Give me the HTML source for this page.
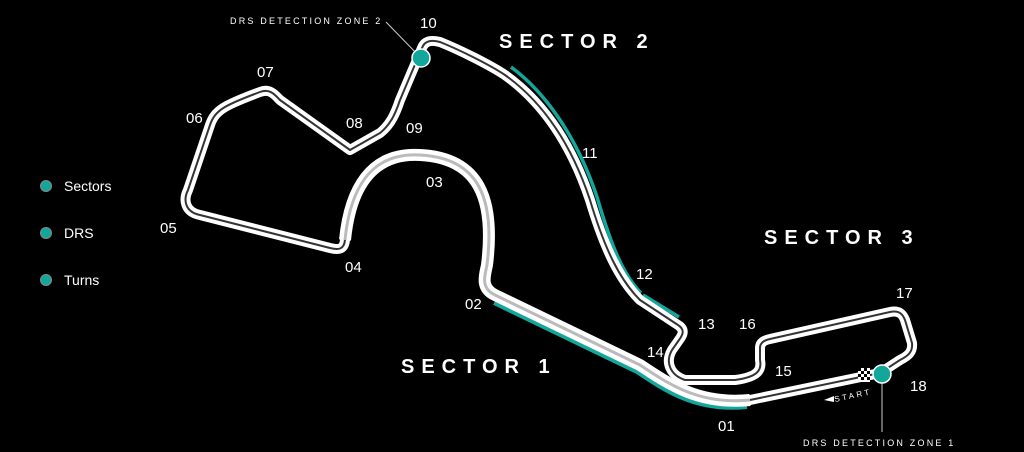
<!DOCTYPE html>
<html><head><style>
html,body{margin:0;padding:0;background:#000;}
body{width:1024px;height:452px;overflow:hidden;position:relative;font-family:"Liberation Sans",sans-serif;}
</style></head><body>
<svg width="1024" height="452" viewBox="0 0 1024 452" xmlns="http://www.w3.org/2000/svg" style="position:absolute;left:0;top:0">
<defs>
<path id="tr" d="M880 373 L750 400 C700 405 670 385 640 365 L495 295 C480 288 485 275 487 265 C495 200 480 158 420 155 C370 152 350 190 345 240 C344 250 338 250 330 248 L200 215 C185 212 183 200 188 190 L210 125 C215 110 225 105 260 92 C270 88 275 95 280 100 L350 150 L380 133 C390 125 395 115 400 100 L422 48 C425 40 432 40 440 42 C460 50 490 65 505 75 C540 100 570 140 590 200 C605 250 620 280 640 300 L678 325 C686 330 682 336 679 340 L672 350 C665 362 670 375 685 380 L735 380 C758 377 762 370 760 360 L760 348 C760 342 765 340 770 339 L890 312 C900 310 903 315 905 320 L912 343 C913 352 908 356 900 360 Z"/>
<path id="s1" d="M750 400 C700 405 670 385 640 365 L495 295 C480 288 485 275 487 265 C495 200 480 158 420 155 C370 152 350 190 345 240"/>
</defs>
<g fill="none" stroke-linecap="butt" stroke-linejoin="round">
<!-- teal segments -->
<path d="M497 296 L640 365 C670 385 700 405 750 400" stroke="#13a79b" stroke-width="4" transform="translate(-3,7)"/>
<path d="M506 70 C540 95 572 140 592 200 C606 248 618 278 636 296" stroke="#13a79b" stroke-width="3.5" transform="translate(5,-3)"/>
<path d="M640 300 L676 322" stroke="#13a79b" stroke-width="3.5" transform="translate(3,-5)"/>
<!-- track -->
<use href="#tr" stroke="#fff" stroke-width="10" stroke-linecap="round"/>
<use href="#tr" stroke="#333" stroke-width="2"/>
<use href="#s1" stroke="#fff" stroke-width="12"/>
<use href="#s1" stroke="#bbb" stroke-width="3"/>
</g>
<!-- checkered -->
<g fill="#fff"><rect x="858" y="368" width="12" height="14"/></g>
<g fill="#000"><rect x="858" y="368" width="3" height="3"/><rect x="864" y="368" width="3" height="3"/><rect x="861" y="371" width="3" height="3"/><rect x="867" y="371" width="3" height="3"/><rect x="858" y="374" width="3" height="3"/><rect x="864" y="374" width="3" height="3"/><rect x="861" y="377" width="3" height="3"/><rect x="867" y="377" width="3" height="3"/></g>
<!-- DRS markers -->
<line x1="421" y1="58" x2="386" y2="22" stroke="#ccc" stroke-width="1"/>
<circle cx="421" cy="58" r="9" fill="#13a79b" stroke="#fff" stroke-width="1.5"/>
<line x1="882" y1="375" x2="882" y2="432" stroke="#ccc" stroke-width="1"/>
<circle cx="882" cy="374" r="9" fill="#13a79b" stroke="#fff" stroke-width="1.5"/>
<polygon points="824,400 834,396 834,402" fill="#fff"/>
<text x="835" y="402" fill="#fff" font-size="8" letter-spacing="2.5" transform="rotate(-12 835 402)">START</text>
<g fill="#fff" font-size="9" letter-spacing="2.2">
<text x="230" y="24">DRS DETECTION ZONE 2</text>
<text x="803" y="446">DRS DETECTION ZONE 1</text>
</g>
<g fill="#fff" font-size="20" font-weight="bold" letter-spacing="7">
<text x="499" y="48">SECTOR 2</text>
<text x="764" y="244">SECTOR 3</text>
<text x="401" y="373">SECTOR 1</text>
</g>
<g fill="#fff" font-size="15">
<text x="420" y="28">10</text><text x="257" y="77">07</text><text x="186" y="123">06</text>
<text x="346" y="128">08</text><text x="406" y="133">09</text><text x="426" y="187">03</text>
<text x="160" y="233">05</text><text x="345" y="272">04</text><text x="465" y="309">02</text>
<text x="582" y="158">11</text><text x="636" y="279">12</text><text x="698" y="329">13</text>
<text x="739" y="329">16</text><text x="647" y="357">14</text><text x="775" y="376">15</text>
<text x="896" y="298">17</text><text x="910" y="391">18</text><text x="718" y="431">01</text>
</g>
<g font-size="14" fill="#fff">
<circle cx="46" cy="186" r="5.5" fill="#13a79b" stroke="#888" stroke-width="1"/><text x="64" y="191">Sectors</text>
<circle cx="46" cy="233" r="5.5" fill="#13a79b" stroke="#888" stroke-width="1"/><text x="64" y="238">DRS</text>
<circle cx="46" cy="280" r="5.5" fill="#13a79b" stroke="#888" stroke-width="1"/><text x="64" y="285">Turns</text>
</g>
</svg>
</body></html>
